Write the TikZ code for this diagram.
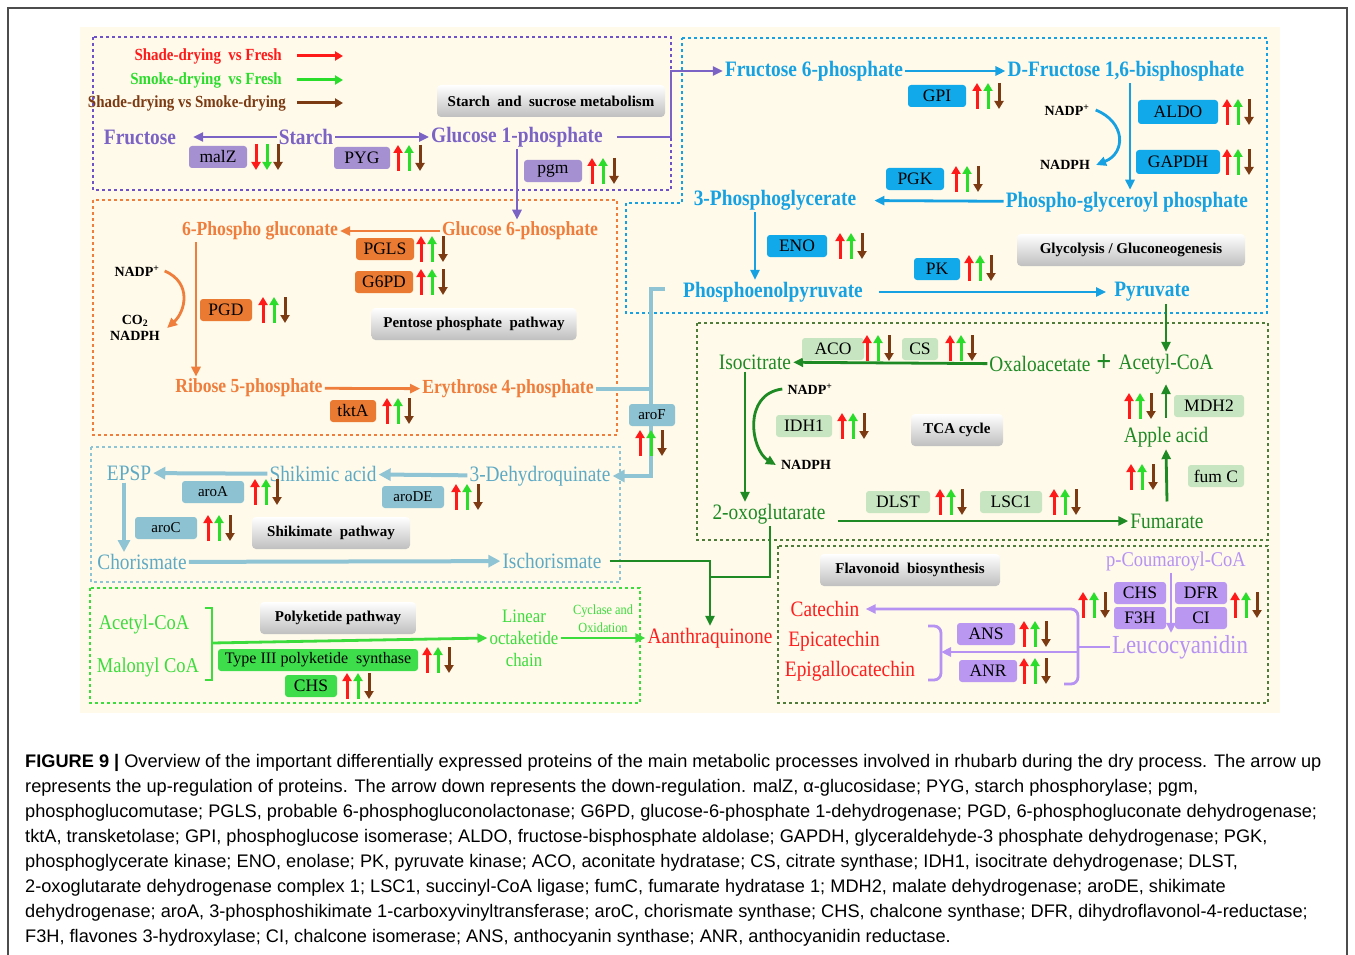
\documentclass[tikz,border=0pt]{standalone}
\usepackage{fontspec}
\setmainfont{Liberation Serif}
\setsansfont{Liberation Sans}
\newfontfamily\narrow[FakeStretch=0.88]{Liberation Serif}
\usetikzlibrary{arrows.meta,positioning}

% colours of the pathways
\definecolor{cream}{HTML}{FFFAEA}
\definecolor{pathP}{HTML}{7A63C4}
\definecolor{boxP}{HTML}{A591D2}
\definecolor{edgeP}{HTML}{6E52C8}
\definecolor{pathB}{HTML}{16A2E2}
\definecolor{boxB}{HTML}{12A9EA}
\definecolor{pathO}{HTML}{EF7D3C}
\definecolor{boxO}{HTML}{EA7A32}
\definecolor{pathL}{HTML}{5EAAC4}
\definecolor{lineL}{HTML}{8FC4D4}
\definecolor{boxL}{HTML}{8CC2D1}
\definecolor{pathG}{HTML}{1E8A24}
\definecolor{boxG}{HTML}{C6E5C0}
\definecolor{edgeG}{HTML}{4F7B3B}
\definecolor{pathK}{HTML}{3CDC3C}
\definecolor{boxK}{HTML}{3EDD4C}
\definecolor{pathV}{HTML}{B692F2}
\definecolor{boxV}{HTML}{BA98F2}
\definecolor{upR}{HTML}{FF1A1A}
\definecolor{upG}{HTML}{2BDD2B}
\definecolor{dnB}{HTML}{7B3A12}
\definecolor{redT}{HTML}{FF1E1E}

\tikzset{
  met/.style={font=\narrow\bfseries\fontsize{#1}{#1}\selectfont, inner sep=2pt},
  met/.default=22,
  lab/.style={font=\narrow\fontsize{#1}{#1}\selectfont, inner sep=2pt},
  lab/.default=22,
  sm/.style={font=\bfseries\fontsize{14}{16}\selectfont, inner sep=1pt},
  leg/.style={font=\narrow\bfseries\fontsize{17}{17}\selectfont, inner sep=1pt},
  enz/.style={rounded corners=3pt, minimum height=22pt, inner sep=2pt, text=black,
    font=\fontsize{17.5}{17.5}\selectfont},
  ttl/.style={rounded corners=4pt, top color=white, bottom color=black!25,
    minimum height=32pt, inner sep=3pt, font=\bfseries\fontsize{15}{15}\selectfont},
  dotbox/.style={line width=2.8pt, dash pattern=on 2.8pt off 3.2pt},
  flow/.style={line width=2.8pt, -{Triangle[length=10pt,width=9pt]}},
  wide/.style={line width=4pt, -{Triangle[length=12pt,width=12pt]}},
  regarrow/.style={line width=3pt, -{Triangle[length=8pt,width=9pt]}},
  upupdn/.pic={
    \draw[regarrow,upR] (-11,13) -- (-11,-13);
    \draw[regarrow,upG] (0,13) -- (0,-13);
    \draw[regarrow,dnB] (11,-13) -- (11,13);
  },
  dndndn/.pic={
    \draw[regarrow,upR] (-11,-13) -- (-11,13);
    \draw[regarrow,upG] (0,-13) -- (0,13);
    \draw[regarrow,dnB] (11,-13) -- (11,13);
  }
}

\begin{document}
\begin{tikzpicture}[x=1pt,y=-1pt]
\fill[white] (0,0) rectangle (1355,955);
\useasboundingbox (0,0) rectangle (1355,955);
\draw[black!70, line width=1.2pt] (8,955) -- (8,8) -- (1347,8) -- (1347,955);
\fill[cream] (80,27) rectangle (1280,713);

% pathway frames
\draw[dotbox,edgeP] (93,37) rectangle (671,190);
\draw[dotbox,pathB] (682,38) -- (1267,38) -- (1267,313) -- (626,313) -- (626,203) -- (682,203) -- cycle;
\draw[dotbox,pathO] (93,200) rectangle (617,435);
\draw[dotbox,lineL] (91,447) rectangle (620,582);
\draw[dotbox,pathK] (90,588) rectangle (640,703);
\draw[dotbox,edgeG] (697,323) rectangle (1268,540);
\draw[dotbox,edgeG] (778,546) rectangle (1268,703);

% legend
\node[leg,upR,anchor=east] (lg1) at (283,56) {Shade-drying\ \ vs Fresh};
\node[leg,upG,anchor=east] (lg2) at (283,80) {Smoke-drying\ \ vs Fresh};
\node[leg,dnB,anchor=east] (lg3) at (287,103) {Shade-drying vs Smoke-drying};
\draw[regarrow,upR] ([xshift=14pt]lg1.east) -- ++(46,0);
\draw[regarrow,upG] ([xshift=14pt]lg2.east) -- ++(46,0);
\draw[regarrow,dnB] ([xshift=10pt]lg3.east) -- ++(46,0);

% starch and sucrose metabolism
\node[ttl,minimum width=228pt] (starchT) at (551,101) {Starch\ \ and\ \ sucrose metabolism};
\node[met,pathP] (fru) at (140,137) {Fructose};
\node[met,pathP] (starch) at (306,137) {Starch};
\node[met,pathP] (g1p) at (517,137) {Glucose 1-phosphate};
\draw[flow,pathP] (starch.west) -- ([xshift=15pt]fru.east);
\draw[flow,pathP] (starch) -- (g1p);
\node[enz,fill=boxP,minimum width=58pt] (malZ) at (218,157) {malZ};
\node[enz,fill=boxP,minimum width=56pt] (PYG) at (362,158) {PYG};
\node[enz,fill=boxP,minimum width=58pt] (pgm) at (553,171) {pgm};
\pic at (267,157) {dndndn};
\pic at (409,158) {upupdn};
\pic at (603,171) {upupdn};

% glycolysis / gluconeogenesis
\node[met,pathB] (f6p) at (814,71) {Fructose 6-phosphate};
\node[met,pathB] (fbp) at (1126,71) {D-Fructose 1,6-bisphosphate};
\node[met,pathB] (pgp) at (1127,202) {Phospho-glyceroyl\ phosphate};
\node[met,pathB] (pga) at (775,200) {3-Phosphoglycerate};
\node[met,pathB] (pep) at (773,292) {Phosphoenolpyruvate};
\node[met,pathB] (pyr) at (1152,292) {Pyruvate};
\coordinate (bend) at (671,137);
\draw[flow,pathP] ([xshift=12pt]g1p.east) -- (bend) |- (f6p.west);
\draw[flow,pathB] (f6p) -- (fbp);
\draw[flow,pathB] ([xshift=4pt]fbp.south) -- ([xshift=4pt]fbp.south |- pgp.north);
\draw[flow,pathB,shorten >=16pt] (pgp) -- (pga);
\draw[flow,pathB] ([xshift=-20pt]pga.south) -- ([xshift=-20pt]pga.south |- pep.north);
\draw[flow,pathB] ([xshift=14pt]pep.east) -- ([xshift=-6pt]pyr.west);
\node[sm] (nadpG) at (1067,110) {NADP\textsuperscript{+}};
\node[sm] (nadphG) at (1065,165) {NADPH};
\draw[flow,pathB] ([xshift=5pt]nadpG.east) .. controls +(30,12) and +(30,-12) .. ([xshift=5pt]nadphG.east);
\node[enz,fill=boxB,minimum width=58pt] (GPI) at (937,96) {GPI};
\node[enz,fill=boxB,minimum width=80pt,minimum height=24pt] (ALDO) at (1178,112) {ALDO};
\node[enz,fill=boxB,minimum width=84pt,minimum height=24pt] (GAPDH) at (1178,162) {GAPDH};
\node[enz,fill=boxB,minimum width=58pt] (PGK) at (915,179) {PGK};
\node[enz,fill=boxB,minimum width=60pt] (ENO) at (797,246) {ENO};
\node[enz,fill=boxB,minimum width=46pt] (PK) at (937,269) {PK};
\node[ttl,minimum width=228pt] (glycT) at (1131,250) {Glycolysis / Gluconeogenesis};
\pic at (988,96) {upupdn};
\pic at (1238,112) {upupdn};
\pic at (1238,162) {upupdn};
\pic at (967,179) {upupdn};
\pic at (851,246) {upupdn};
\pic at (980,268) {upupdn};

% pentose phosphate pathway
\node[met=20,pathO] (pg6) at (260,231) {6-Phospho gluconate};
\node[met=20,pathO] (g6p) at (520,231) {Glucose 6-phosphate};
\node[met=20,pathO] (r5p) at (249,388) {Ribose 5-phosphate};
\node[met=20,pathO] (e4p) at (508,389) {Erythrose 4-phosphate};
\draw[flow,pathP] (g1p.south) -- (g1p.south |- g6p.north);
\draw[flow,pathO] (g6p) -- (pg6);
\draw[flow,pathO] ([xshift=-64pt]pg6.south) -- ([xshift=-64pt]pg6.south |- r5p.north);
\draw[flow,pathO] (r5p) -- (e4p);
\node[sm] (nadpO) at (137,271) {NADP\textsuperscript{+}};
\node[sm,align=center] (co2) at (135,328) {CO\textsubscript{2}\\NADPH};
\draw[flow,pathO] ([xshift=4pt]nadpO.east) .. controls +(28,12) and +(18,-16) .. ([xshift=6pt]co2.east);
\node[enz,fill=boxO,minimum width=58pt] (PGLS) at (385,249) {PGLS};
\node[enz,fill=boxO,minimum width=58pt] (G6PD) at (384,282) {G6PD};
\node[enz,fill=boxO,minimum width=52pt] (PGD) at (226,310) {PGD};
\node[enz,fill=boxO,minimum width=46pt] (tktA) at (353,411) {tktA};
\node[ttl,minimum width=205pt] (pppT) at (474,324) {Pentose phosphate\ \ pathway};
\pic at (432,249) {upupdn};
\pic at (432,282) {upupdn};
\pic at (274,310) {upupdn};
\pic at (398,411) {upupdn};

% shikimate pathway
\node[lab,pathL] (epsp) at (129,473) {EPSP};
\node[lab,pathL] (shik) at (323,474) {Shikimic acid};
\node[lab,pathL] (deh) at (540,476) {3-Dehydroquinate};
\node[lab,pathL] (chor) at (142,562) {Chorismate};
\node[lab,pathL] (isch) at (552,561) {Ischorismate};
\coordinate (hookT) at (665,289);
\coordinate (hookB) at (651,289);
\draw[wide,lineL] (hookT) -- (hookB) |- (deh.east);
\draw[line width=4pt,lineL] (e4p.east) -- (e4p.east -| hookB);
\draw[wide,lineL] (deh) -- (shik);
\draw[wide,lineL] (shik) -- (epsp);
\draw[wide,lineL] ([xshift=-5pt]epsp.south) -- ([xshift=-5pt]epsp.south |- chor.north);
\draw[wide,lineL] (chor) -- (isch);
\node[enz,fill=boxL,minimum width=46pt,font=\fontsize{15}{15}\selectfont] (aroF) at (652,415) {aroF};
\node[enz,fill=boxL,minimum width=62pt,font=\fontsize{15}{15}\selectfont] (aroA) at (213,492) {aroA};
\node[enz,fill=boxL,minimum width=62pt,font=\fontsize{15}{15}\selectfont] (aroDE) at (413,497) {aroDE};
\node[enz,fill=boxL,minimum width=62pt,font=\fontsize{15}{15}\selectfont] (aroC) at (166,528) {aroC};
\node[ttl,minimum width=158pt] (shikT) at (331,533) {Shikimate\ \ pathway};
\pic at (651,443) {upupdn};
\pic at (266,492) {upupdn};
\pic at (467,497) {upupdn};
\pic at (219,528) {upupdn};

% TCA cycle
\node[lab,pathG] (iso) at (755,362) {Isocitrate};
\node[lab,pathG] (oxa) at (1040,364) {Oxaloacetate};
\node[met=30,pathG] (plus) at (1104,363) {+};
\node[lab,pathG] (acoa) at (1166,364) {Acetyl-CoA};
\node[lab,pathG] (apple) at (1166,437) {Apple acid};
\node[lab,pathG] (oxo) at (769,514) {2-oxoglutarate};
\node[lab,pathG] (fum) at (1167,521) {Fumarate};
\draw[flow,pathG] (pyr.south -| acoa.north) -- (acoa.north);
\draw[flow,pathG] (oxa) -- (iso);
\draw[flow,pathG] ([xshift=-10pt]iso.south) -- ([xshift=-10pt]iso.south |- oxo.north);
\draw[flow,pathG] ([xshift=10pt]oxo.east |- fum.west) -- (fum.west);
\draw[flow,pathG] ([yshift=10pt]fum.north) -- (apple.south);
\draw[flow,pathG] ([yshift=7pt]apple.north) -- ([yshift=-8pt]acoa.south);
\node[sm] (nadpT) at (810,389) {NADP\textsuperscript{+}};
\node[sm] (nadphT) at (806,465) {NADPH};
\draw[flow,pathG] ([xshift=-4pt]nadpT.west) .. controls +(-40,5) and +(-25,-15) .. ([xshift=-4pt]nadphT.west);
\node[enz,fill=boxG,minimum width=62pt] (ACO) at (833,349) {ACO};
\node[enz,fill=boxG,minimum width=36pt] (CS) at (920,349) {CS};
\node[enz,fill=boxG,minimum width=56pt] (IDH1) at (804,426) {IDH1};
\node[enz,fill=boxG,minimum width=70pt] (MDH2) at (1209,406) {MDH2};
\node[enz,fill=boxG,minimum width=56pt] (fumC) at (1216,476) {fum C};
\node[enz,fill=boxG,minimum width=64pt] (DLST) at (898,502) {DLST};
\node[enz,fill=boxG,minimum width=62pt] (LSC1) at (1011,502) {LSC1};
\node[ttl,minimum width=92pt] (tcaT) at (957,430) {TCA cycle};
\pic at (878,348) {upupdn};
\pic at (961,348) {upupdn};
\pic at (853,426) {upupdn};
\pic at (1140,406) {upupdn};
\pic at (1142,477) {upupdn};
\pic at (951,502) {upupdn};
\pic at (1065,502) {upupdn};

% polyketide pathway
\node[lab=21,pathK] (acoaK) at (144,624) {Acetyl-CoA};
\node[lab=21,pathK] (malK) at (148,667) {Malonyl CoA};
\node[lab=19,pathK,align=center,font=\narrow\fontsize{19}{22}\selectfont] (octa) at (524,638) {Linear\\octaketide\\chain};
\node[lab=14,pathK,align=center,font=\narrow\fontsize{14}{18}\selectfont] (cyc) at (603,619) {Cyclase and\\Oxidation};
\node[lab,redT] (anth) at (710,638) {Aanthraquinone};
\draw[line width=2.5pt,pathK] (205,608) -- (212,608) -- (212,680) -- (205,680);
\coordinate (brK) at (212,643);
\draw[flow,pathK] (brK) -- (octa.west);
\draw[flow,pathK] (octa) -- (anth);
\node[ttl,minimum width=156pt] (polyT) at (338,618) {Polyketide pathway};
\node[enz,fill=boxK,minimum width=200pt,font=\fontsize{16}{16}\selectfont] (t3) at (318,660) {Type III polyketide\ \ synthase};
\node[enz,fill=boxK,minimum width=52pt] (CHSk) at (311,686) {CHS};
\pic at (438,660) {upupdn};
\pic at (358,686) {upupdn};
\coordinate (jn) at (709,577);
\draw[flow,pathG] ([xshift=6pt]isch.east) -| (anth.north);
\draw[line width=2.8pt,pathG] ([xshift=1pt]oxo.south) |- (jn);

% flavonoid biosynthesis
\node[ttl,minimum width=180pt] (flavT) at (910,570) {Flavonoid\ \ biosynthesis};
\node[lab=21,pathV] (pcoum) at (1176,561) {p-Coumaroyl-CoA};
\node[lab=26,pathV] (leuco) at (1180,647) {Leucocyanidin};
\node[lab,redT] (cat) at (825,609) {Catechin};
\node[lab,redT] (epic) at (834,641) {Epicatechin};
\node[lab,redT] (epig) at (850,671) {Epigallocatechin};
\draw[flow,pathV] ([xshift=-5pt]pcoum.south) -- ([xshift=-5pt]pcoum.south |- leuco.north);
\coordinate (brR) at (1078,647);
\coordinate (brL) at (941,652);
\draw[flow,pathV,rounded corners=7pt] (brR) |- ([xshift=4pt]cat.east);
\draw[line width=2.8pt,pathV,rounded corners=7pt] (brR) |- (1064,684);
\draw[line width=2.8pt,pathV] (brR) -- (leuco.west);
\draw[flow,pathV] (brR |- brL) -- (brL);
\draw[line width=2.8pt,pathV,rounded corners=7pt] (928,626) -| (brL) |- (928,680);
\node[enz,fill=boxV,minimum width=52pt] (CHSf) at (1140,593) {CHS};
\node[enz,fill=boxV,minimum width=52pt] (DFR) at (1201,593) {DFR};
\node[enz,fill=boxV,minimum width=52pt] (F3H) at (1140,618) {F3H};
\node[enz,fill=boxV,minimum width=52pt] (CI) at (1201,618) {CI};
\node[enz,fill=boxV,minimum width=58pt] (ANS) at (986,634) {ANS};
\node[enz,fill=boxV,minimum width=58pt] (ANR) at (988,671) {ANR};
\pic at (1094,605) {upupdn};
\pic at (1246,605) {upupdn};
\pic at (1035,634) {upupdn};
\pic at (1035,671) {upupdn};

% caption
\foreach \t [count=\i] in {
  {\textbf{FIGURE 9 |} Overview of the important differentially expressed proteins of the main metabolic processes involved in rhubarb during the dry process. The arrow up},
  {represents the up-regulation of proteins. The arrow down represents the down-regulation. malZ, α-glucosidase; PYG, starch phosphorylase; pgm,},
  {phosphoglucomutase; PGLS, probable 6-phosphogluconolactonase; G6PD, glucose-6-phosphate 1-dehydrogenase; PGD, 6-phosphogluconate dehydrogenase;},
  {tktA, transketolase; GPI, phosphoglucose isomerase; ALDO, fructose-bisphosphate aldolase; GAPDH, glyceraldehyde-3 phosphate dehydrogenase; PGK,},
  {phosphoglycerate kinase; ENO, enolase; PK, pyruvate kinase; ACO, aconitate hydratase; CS, citrate synthase; IDH1, isocitrate dehydrogenase; DLST,},
  {2-oxoglutarate dehydrogenase complex 1; LSC1, succinyl-CoA ligase; fumC, fumarate hydratase 1; MDH2, malate dehydrogenase; aroDE, shikimate},
  {dehydrogenase; aroA, 3-phosphoshikimate 1-carboxyvinyltransferase; aroC, chorismate synthase; CHS, chalcone synthase; DFR, dihydroflavonol-4-reductase;},
  {F3H, flavones 3-hydroxylase; CI, chalcone isomerase; ANS, anthocyanin synthase; ANR, anthocyanidin reductase.}}
  \node[anchor=base west,inner sep=0pt,font=\sffamily\fontsize{18.2}{20}\selectfont] (cap\i) at (25,{767+25.14*(\i-1)}) {\t};
\end{tikzpicture}
\end{document}
